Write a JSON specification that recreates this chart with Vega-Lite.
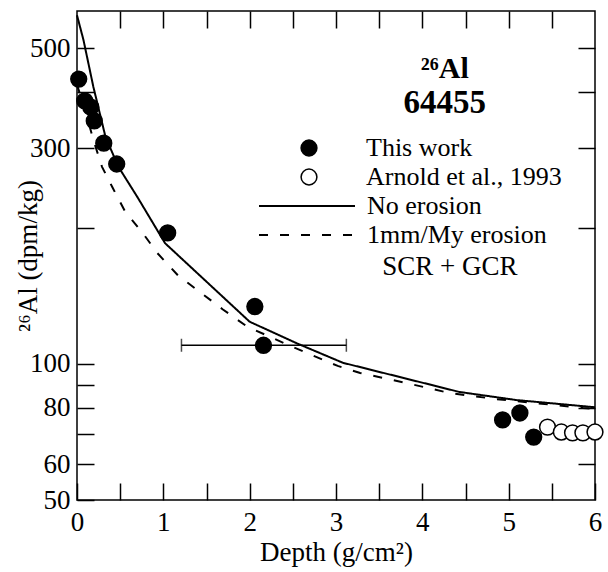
{
  "$schema": "https://vega.github.io/schema/vega-lite/v6.json",
  "width": 518,
  "height": 489,
  "autosize": {"type": "none"},
  "padding": {"left": 77, "top": 11, "right": 13, "bottom": 72},
  "background": "white",
  "datasets": {
    "curves": [
      {"series": "No erosion", "depth": 0.0, "al": 591},
      {"series": "No erosion", "depth": 0.075, "al": 521},
      {"series": "No erosion", "depth": 0.19, "al": 410},
      {"series": "No erosion", "depth": 0.33, "al": 318},
      {"series": "No erosion", "depth": 0.48, "al": 273},
      {"series": "No erosion", "depth": 0.70, "al": 234},
      {"series": "No erosion", "depth": 1.02, "al": 185},
      {"series": "No erosion", "depth": 2.0, "al": 124},
      {"series": "No erosion", "depth": 2.55, "al": 111},
      {"series": "No erosion", "depth": 3.08, "al": 100.6},
      {"series": "No erosion", "depth": 4.43, "al": 86.7},
      {"series": "No erosion", "depth": 5.09, "al": 83.2},
      {"series": "No erosion", "depth": 6.0, "al": 80.2},
      {"series": "1mm/My erosion", "depth": 0.0, "al": 415},
      {"series": "1mm/My erosion", "depth": 0.1, "al": 361},
      {"series": "1mm/My erosion", "depth": 0.19, "al": 313},
      {"series": "1mm/My erosion", "depth": 0.29, "al": 273},
      {"series": "1mm/My erosion", "depth": 0.41, "al": 246},
      {"series": "1mm/My erosion", "depth": 0.56, "al": 217},
      {"series": "1mm/My erosion", "depth": 0.76, "al": 195},
      {"series": "1mm/My erosion", "depth": 0.93, "al": 176},
      {"series": "1mm/My erosion", "depth": 1.17, "al": 157},
      {"series": "1mm/My erosion", "depth": 1.43, "al": 144},
      {"series": "1mm/My erosion", "depth": 1.69, "al": 132},
      {"series": "1mm/My erosion", "depth": 1.97, "al": 121},
      {"series": "1mm/My erosion", "depth": 2.5, "al": 109},
      {"series": "1mm/My erosion", "depth": 3.02, "al": 99},
      {"series": "1mm/My erosion", "depth": 3.28, "al": 95.5},
      {"series": "1mm/My erosion", "depth": 3.82, "al": 90.7},
      {"series": "1mm/My erosion", "depth": 4.32, "al": 86.2},
      {"series": "1mm/My erosion", "depth": 4.86, "al": 83.6},
      {"series": "1mm/My erosion", "depth": 5.86, "al": 79.9},
      {"series": "1mm/My erosion", "depth": 6.0, "al": 79.6}
    ],
    "points": [
      {"series": "This work", "depth": 0.02, "al": 427},
      {"series": "This work", "depth": 0.09, "al": 382},
      {"series": "This work", "depth": 0.16, "al": 370},
      {"series": "This work", "depth": 0.2, "al": 345},
      {"series": "This work", "depth": 0.31, "al": 308},
      {"series": "This work", "depth": 0.46, "al": 277},
      {"series": "This work", "depth": 1.05, "al": 195},
      {"series": "This work", "depth": 2.06, "al": 134},
      {"series": "This work", "depth": 2.16, "al": 110},
      {"series": "This work", "depth": 4.93, "al": 75.2},
      {"series": "This work", "depth": 5.13, "al": 77.9},
      {"series": "This work", "depth": 5.29, "al": 68.9},
      {"series": "Arnold et al., 1993", "depth": 5.45, "al": 72.5},
      {"series": "Arnold et al., 1993", "depth": 5.61, "al": 70.7},
      {"series": "Arnold et al., 1993", "depth": 5.74, "al": 70.4},
      {"series": "Arnold et al., 1993", "depth": 5.86, "al": 70.4},
      {"series": "Arnold et al., 1993", "depth": 6.0, "al": 70.7}
    ],
    "errors": [
      {"depth_lo": 1.21, "depth_hi": 3.12, "al": 110}
    ]
  },
  "layer": [
    {
      "data": {"name": "curves"},
      "mark": {"type": "line", "color": "black", "strokeWidth": 2},
      "encoding": {
        "x": {
          "field": "depth", "type": "quantitative",
          "scale": {"domain": [0, 6], "nice": false, "zero": false},
          "axis": {
            "orient": "bottom",
            "offset": -17,
            "values": [0, 0.5, 1, 1.5, 2, 2.5, 3, 3.5, 4, 4.5, 5, 5.5, 6],
            "labelExpr": "datum.value % 1 === 0 ? format(datum.value, 'd') : ''",
            "ticks": true,
            "tickSize": 17,
            "labelPadding": 9,
            "title": "Depth (g/cm²)",
            "titlePadding": 4,
            "encode": {"ticks": {"y": {"value": {"expr": "datum.value % 1 === 0 ? 0 : 8"}}}}
          }
        },
        "y": {
          "field": "al", "type": "quantitative",
          "scale": {"type": "log", "domain": [50, 604], "nice": false},
          "axis": {
            "orient": "left",
            "offset": -17,
            "values": [50, 60, 70, 80, 90, 100, 200, 300, 400, 500],
            "labelExpr": "(datum.value === 70 || datum.value === 90 || datum.value === 200 || datum.value === 400) ? '' : format(datum.value, 'd')",
            "ticks": true,
            "tickSize": 17,
            "labelPadding": 7,
            "title": "²⁶Al (dpm/kg)",
            "titlePadding": -13,
            "encode": {"ticks": {"x": {"value": {"expr": "datum.value === 100 ? 0 : -9"}}}}
          }
        },
        "strokeDash": {
          "field": "series", "type": "nominal",
          "scale": {"domain": ["No erosion", "1mm/My erosion"], "range": [[1, 0], [9, 12]]},
          "legend": {
            "orient": "none", "legendX": 217, "legendY": 182, "title": null,
            "symbolType": "M-12,0H12", "symbolSize": 64, "symbolStrokeWidth": 2,
            "symbolStrokeColor": "black", "labelOffset": 47, "rowPadding": 3, "padding": 0
          }
        }
      }
    },
    {
      "data": {"name": "errors"},
      "mark": {"type": "errorbar", "color": "black", "ticks": {"size": 13, "thickness": 1.5}, "rule": {"strokeWidth": 1.5}},
      "encoding": {
        "x": {"field": "depth_lo", "type": "quantitative", "scale": {"domain": [0, 6], "nice": false, "zero": false}, "axis": null},
        "x2": {"field": "depth_hi"},
        "y": {"field": "al", "type": "quantitative", "scale": {"type": "log", "domain": [50, 604], "nice": false}, "axis": null}
      }
    },
    {
      "data": {"name": "points"},
      "mark": {"type": "point", "shape": "circle", "filled": true, "size": 250, "stroke": "black", "strokeWidth": 1.5, "opacity": 1},
      "encoding": {
        "x": {
          "field": "depth", "type": "quantitative",
          "scale": {"domain": [0, 6], "nice": false, "zero": false},
          "axis": {
            "orient": "top",
            "offset": -17,
            "values": [0.5, 1, 1.5, 2, 2.5, 3, 3.5, 4, 4.5, 5, 5.5],
            "labels": false, "title": null,
            "ticks": true,
            "tickSize": 17,
            "encode": {"ticks": {"y": {"value": {"expr": "datum.value % 1 === 0 ? 0 : -8"}}}}
          }
        },
        "y": {
          "field": "al", "type": "quantitative",
          "scale": {"type": "log", "domain": [50, 604], "nice": false},
          "axis": {
            "orient": "right",
            "offset": -17,
            "values": [60, 70, 80, 90, 100, 200, 300, 400, 500],
            "labels": false, "title": null,
            "ticks": true,
            "tickSize": 17,
            "encode": {"ticks": {"x": {"value": {"expr": "datum.value === 100 ? 0 : 9"}}}}
          }
        },
        "fill": {
          "field": "series", "type": "nominal",
          "scale": {"domain": ["This work", "Arnold et al., 1993"], "range": ["black", "white"]},
          "legend": {
            "orient": "none", "legendX": 219, "legendY": 124, "title": null,
            "symbolType": "circle", "symbolSize": 250, "symbolStrokeColor": "black",
            "symbolStrokeWidth": 1.5, "labelOffset": 44, "rowPadding": 3, "padding": 0
          }
        }
      }
    },
    {
      "data": {"values": [{"label": "²⁶Al"}]},
      "mark": {"type": "text", "font": "Liberation Serif", "fontSize": 30, "fontWeight": "bold", "align": "center", "baseline": "alphabetic", "color": "black"},
      "encoding": {
        "x": {"datum": 4.26, "type": "quantitative", "axis": null},
        "y": {"datum": 429, "type": "quantitative", "axis": null},
        "text": {"field": "label"}
      }
    },
    {
      "data": {"values": [{"label": "64455"}]},
      "mark": {"type": "text", "font": "Liberation Serif", "fontSize": 33, "fontWeight": "bold", "align": "center", "baseline": "alphabetic", "color": "black"},
      "encoding": {
        "x": {"datum": 4.26, "type": "quantitative", "axis": null},
        "y": {"datum": 359, "type": "quantitative", "axis": null},
        "text": {"field": "label"}
      }
    },
    {
      "data": {"values": [{"label": "SCR + GCR"}]},
      "mark": {"type": "text", "font": "Liberation Serif", "fontSize": 27, "align": "center", "baseline": "alphabetic", "color": "black"},
      "encoding": {
        "x": {"datum": 4.32, "type": "quantitative", "axis": null},
        "y": {"datum": 157.4, "type": "quantitative", "axis": null},
        "text": {"field": "label"}
      }
    }
  ],
  "resolve": {"axis": {"x": "independent", "y": "independent"}},
  "config": {
    "font": "Liberation Serif",
    "view": {"stroke": "black", "strokeWidth": 1.5},
    "axis": {
      "grid": false, "domain": false,
      "labelFont": "Liberation Serif", "labelFontSize": 27, "labelColor": "black",
      "labelFlush": false, "labelOverlap": false, "labelBound": false,
      "titleFont": "Liberation Serif", "titleFontSize": 27, "titleFontWeight": "normal", "titleColor": "black",
      "tickColor": "black", "tickWidth": 1.5
    },
    "legend": {
      "labelFont": "Liberation Serif", "labelFontSize": 26, "labelColor": "black", "labelLimit": 400
    }
  }
}
